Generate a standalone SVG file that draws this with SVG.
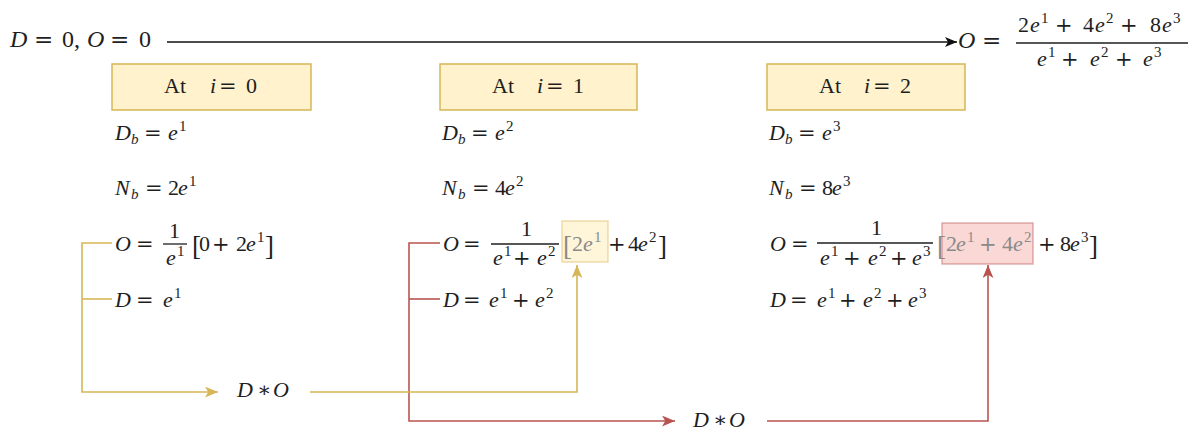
<svg xmlns="http://www.w3.org/2000/svg" width="1200" height="439" viewBox="0 0 1200 439">
<style>
.t{font-family:"Liberation Serif","DejaVu Serif",serif;font-size:22px;fill:#1e1e1e}
.L{font-size:24px}
.n{font-size:22px}
.i{font-style:italic}
.s{font-size:15px}
.op{font-family:"DejaVu Serif","Liberation Serif",serif;font-size:21px}
.L .op{font-size:23px}
.br{font-size:27px}
.g{fill:#8a8a8a}
.box{fill:#fff2cc;stroke:#d6b656;stroke-width:1.5}
.fl{stroke:#1e1e1e;stroke-width:1.3}
.cy{fill:none;stroke:#d6b656;stroke-width:1.6}
.cr{fill:none;stroke:#b85450;stroke-width:1.6}
.ck{fill:none;stroke:#111;stroke-width:1.6}
</style>
<defs>
<marker id="ak" viewBox="0 0 12 10" refX="12" refY="5" markerWidth="12" markerHeight="10" markerUnits="userSpaceOnUse" orient="auto"><path d="M0,0 L12,5 L0,10 L3,5 z" fill="#111"/></marker>
<marker id="ay" viewBox="0 0 12 10" refX="12" refY="5" markerWidth="13" markerHeight="11" markerUnits="userSpaceOnUse" orient="auto"><path d="M0,0 L12,5 L0,10 L3,5 z" fill="#d6b656"/></marker>
<marker id="ar" viewBox="0 0 12 10" refX="12" refY="5" markerWidth="13" markerHeight="11" markerUnits="userSpaceOnUse" orient="auto"><path d="M0,0 L12,5 L0,10 L3,5 z" fill="#b85450"/></marker>
</defs>
<rect width="1200" height="439" fill="#ffffff"/>

<g id="connectors">
<path class="ck" d="M167,42 H957" marker-end="url(#ak)"/>
<path class="cy" d="M112,243 H82 V392 H218" marker-end="url(#ay)"/>
<path class="cy" d="M112,299 H82"/>
<path class="cr" d="M440,243 H409 V421 H675" marker-end="url(#ar)"/>
<path class="cr" d="M440,299 H409"/>
<path class="cy" d="M310,392 H577 V265" marker-end="url(#ay)"/>
<path class="cr" d="M767,421 H988 V265" marker-end="url(#ar)"/>
</g>

<g id="start">
<text class="t L"><tspan class="i" x="10" y="47">D</tspan><tspan class="op" x="34" y="47">=</tspan><tspan x="62" y="47">0,</tspan><tspan class="i" x="87" y="47">O</tspan><tspan class="op" x="110" y="47">=</tspan><tspan x="139" y="47">0</tspan></text>
</g>

<g id="result">
<text class="t L"><tspan class="i" x="958" y="48">O</tspan><tspan class="op" x="982" y="48">=</tspan></text>
<line class="fl" x1="1016" y1="43" x2="1188" y2="43"/>
<text class="t n"><tspan x="1018" y="32">2</tspan><tspan class="i" x="1030" y="32">e</tspan><tspan class="s" x="1041" y="23">1</tspan><tspan class="op" x="1055" y="32">+</tspan><tspan x="1083" y="32">4</tspan><tspan class="i" x="1095" y="32">e</tspan><tspan class="s" x="1106" y="23">2</tspan><tspan class="op" x="1120" y="32">+</tspan><tspan x="1150" y="32">8</tspan><tspan class="i" x="1162" y="32">e</tspan><tspan class="s" x="1173" y="23">3</tspan></text>
<text class="t n"><tspan class="i" x="1037" y="66">e</tspan><tspan class="s" x="1048" y="57">1</tspan><tspan class="op" x="1061" y="66">+</tspan><tspan class="i" x="1090" y="66">e</tspan><tspan class="s" x="1101" y="57">2</tspan><tspan class="op" x="1115" y="66">+</tspan><tspan class="i" x="1143" y="66">e</tspan><tspan class="s" x="1154" y="57">3</tspan></text>
</g>

<g id="step0">
<rect class="box" x="112" y="64" width="199" height="46"/>
<text class="t"><tspan x="164" y="93">At</tspan><tspan class="i" x="210" y="93">i</tspan><tspan class="op" x="219" y="93">=</tspan><tspan x="246" y="93">0</tspan></text>
<text class="t"><tspan class="i" x="115" y="140">D</tspan><tspan class="i s" x="131" y="144">b</tspan><tspan class="op" x="144" y="140">=</tspan><tspan class="i" x="168" y="140">e</tspan><tspan class="s" x="179" y="131">1</tspan></text>
<text class="t"><tspan class="i" x="115" y="195">N</tspan><tspan class="i s" x="131" y="199">b</tspan><tspan class="op" x="145" y="195">=</tspan><tspan x="168" y="195">2</tspan><tspan class="i" x="178" y="195">e</tspan><tspan class="s" x="189" y="186">1</tspan></text>
<text class="t"><tspan class="i" x="115" y="251">O</tspan><tspan class="op" x="136" y="251">=</tspan><tspan x="169" y="238">1</tspan></text>
<line class="fl" x1="163" y1="244" x2="187" y2="244"/>
<text class="t"><tspan class="i" x="166" y="265">e</tspan><tspan class="s" x="177" y="256">1</tspan><tspan class="br" x="192" y="255">[</tspan><tspan x="199" y="251">0</tspan><tspan class="op" x="212" y="251">+</tspan><tspan x="236" y="251">2</tspan><tspan class="i" x="246" y="251">e</tspan><tspan class="s" x="257" y="242">1</tspan><tspan class="br" x="265" y="255">]</tspan></text>
<text class="t"><tspan class="i" x="115" y="307">D</tspan><tspan class="op" x="136" y="307">=</tspan><tspan class="i" x="163" y="307">e</tspan><tspan class="s" x="174" y="298">1</tspan></text>
</g>

<g id="step1">
<rect class="box" x="440" y="64" width="197" height="46"/>
<text class="t"><tspan x="492" y="93">At</tspan><tspan class="i" x="537" y="93">i</tspan><tspan class="op" x="546" y="93">=</tspan><tspan x="573" y="93">1</tspan></text>
<text class="t"><tspan class="i" x="442" y="140">D</tspan><tspan class="i s" x="458" y="144">b</tspan><tspan class="op" x="471" y="140">=</tspan><tspan class="i" x="495" y="140">e</tspan><tspan class="s" x="506" y="131">2</tspan></text>
<text class="t"><tspan class="i" x="442" y="195">N</tspan><tspan class="i s" x="458" y="199">b</tspan><tspan class="op" x="472" y="195">=</tspan><tspan x="495" y="195">4</tspan><tspan class="i" x="505" y="195">e</tspan><tspan class="s" x="516" y="186">2</tspan></text>
<rect x="562" y="221" width="46" height="41" fill="#fff2cc" fill-opacity="0.75" stroke="#d6b656" stroke-opacity="0.45" stroke-width="1.5"/>
<text class="t"><tspan class="i" x="443" y="251">O</tspan><tspan class="op" x="463" y="251">=</tspan><tspan x="521" y="236">1</tspan></text>
<line class="fl" x1="491" y1="244" x2="559" y2="244"/>
<text class="t"><tspan class="i" x="493" y="265">e</tspan><tspan class="s" x="504" y="256">1</tspan><tspan class="op" x="513" y="265">+</tspan><tspan class="i" x="537" y="265">e</tspan><tspan class="s" x="548" y="256">2</tspan></text>
<text class="t"><tspan class="br g" x="563" y="255">[</tspan><tspan class="g" x="572" y="251">2</tspan><tspan class="i g" x="583" y="251">e</tspan><tspan class="s g" x="594" y="242">1</tspan><tspan class="op" x="608" y="251">+</tspan><tspan x="628" y="251">4</tspan><tspan class="i" x="638" y="251">e</tspan><tspan class="s" x="649" y="242">2</tspan><tspan class="br" x="658" y="255">]</tspan></text>
<text class="t"><tspan class="i" x="443" y="307">D</tspan><tspan class="op" x="463" y="307">=</tspan><tspan class="i" x="489" y="307">e</tspan><tspan class="s" x="500" y="298">1</tspan><tspan class="op" x="512" y="307">+</tspan><tspan class="i" x="535" y="307">e</tspan><tspan class="s" x="546" y="298">2</tspan></text>
</g>

<g id="step2">
<rect class="box" x="767" y="64" width="198" height="46"/>
<text class="t"><tspan x="819" y="93">At</tspan><tspan class="i" x="864" y="93">i</tspan><tspan class="op" x="873" y="93">=</tspan><tspan x="900" y="93">2</tspan></text>
<text class="t"><tspan class="i" x="769" y="140">D</tspan><tspan class="i s" x="785" y="144">b</tspan><tspan class="op" x="798" y="140">=</tspan><tspan class="i" x="822" y="140">e</tspan><tspan class="s" x="833" y="131">3</tspan></text>
<text class="t"><tspan class="i" x="769" y="195">N</tspan><tspan class="i s" x="785" y="199">b</tspan><tspan class="op" x="799" y="195">=</tspan><tspan x="822" y="195">8</tspan><tspan class="i" x="832" y="195">e</tspan><tspan class="s" x="843" y="186">3</tspan></text>
<rect x="942" y="223" width="91" height="41" fill="#f8cecc" fill-opacity="0.8" stroke="#b85450" stroke-opacity="0.45" stroke-width="1.5"/>
<text class="t"><tspan class="i" x="770" y="251">O</tspan><tspan class="op" x="791" y="251">=</tspan><tspan x="871" y="235">1</tspan></text>
<line class="fl" x1="817" y1="243" x2="933" y2="243"/>
<text class="t"><tspan class="i" x="820" y="265">e</tspan><tspan class="s" x="831" y="256">1</tspan><tspan class="op" x="843" y="265">+</tspan><tspan class="i" x="868" y="265">e</tspan><tspan class="s" x="879" y="256">2</tspan><tspan class="op" x="890" y="265">+</tspan><tspan class="i" x="912" y="265">e</tspan><tspan class="s" x="923" y="256">3</tspan></text>
<text class="t"><tspan class="br g" x="937" y="255">[</tspan><tspan class="g" x="946" y="251">2</tspan><tspan class="i g" x="956" y="251">e</tspan><tspan class="s g" x="967" y="242">1</tspan><tspan class="op g" x="979" y="251">+</tspan><tspan class="g" x="1002" y="251">4</tspan><tspan class="i g" x="1013" y="251">e</tspan><tspan class="s g" x="1024" y="242">2</tspan><tspan class="op" x="1038" y="251">+</tspan><tspan x="1060" y="251">8</tspan><tspan class="i" x="1070" y="251">e</tspan><tspan class="s" x="1081" y="242">3</tspan><tspan class="br" x="1089" y="255">]</tspan></text>
<text class="t"><tspan class="i" x="770" y="307">D</tspan><tspan class="op" x="790" y="307">=</tspan><tspan class="i" x="817" y="307">e</tspan><tspan class="s" x="828" y="298">1</tspan><tspan class="op" x="839" y="307">+</tspan><tspan class="i" x="863" y="307">e</tspan><tspan class="s" x="874" y="298">2</tspan><tspan class="op" x="886" y="307">+</tspan><tspan class="i" x="908" y="307">e</tspan><tspan class="s" x="919" y="298">3</tspan></text>
</g>

<g id="mul1">
<text class="t"><tspan class="i" x="237" y="397">D</tspan><tspan class="op" x="257" y="397">∗</tspan><tspan class="i" x="273" y="397">O</tspan></text>
</g>
<g id="mul2">
<text class="t"><tspan class="i" x="693" y="427">D</tspan><tspan class="op" x="713" y="427">∗</tspan><tspan class="i" x="729" y="427">O</tspan></text>
</g>
</svg>
